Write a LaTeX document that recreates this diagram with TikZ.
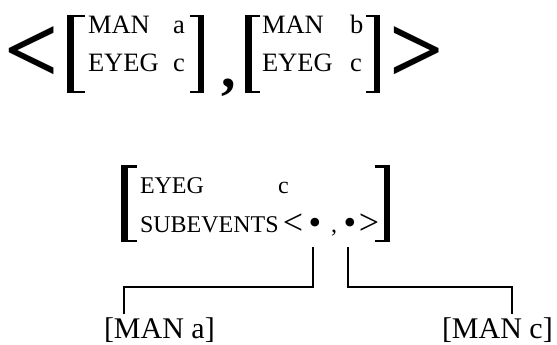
\documentclass[tikz,border=0pt]{standalone}
\usepackage{fontspec}
\setmainfont{Liberation Serif}
\tikzset{
  txt/.style={inner sep=0pt, outer sep=0pt, anchor=base west},
  topfont/.style={font=\fontsize{26.5}{30}\selectfont},
  lowfont/.style={font=\fontsize{24}{28}\selectfont},
  symfont/.style={inner sep=0pt, outer sep=0pt, anchor=base, font=\fontsize{36}{36}\selectfont},
  labfont/.style={font=\fontsize{30}{34}\selectfont},
  bigsym/.style={inner sep=0pt, outer sep=0pt, anchor=base west, font=\fontsize{96}{96}\selectfont\bfseries},
  wire/.style={line width=2pt, line cap=rect},
  brk/.style={fill=black}
}
% thick delimiter: bar plus two thin serifs
\newcommand{\lbrk}[4]{% bar left x, serif end x, top y, bottom y
  \fill[brk] (#1,#3) rectangle ++(6.5,#4-#3);
  \fill[brk] (#1,#3) rectangle (#2,#3+2.5);
  \fill[brk] (#1,#4) rectangle (#2,#4-2.5);}
\newcommand{\rbrk}[4]{% serif start x, bar right x, top y, bottom y
  \fill[brk] (#2,#3) rectangle ++(-6.5,#4-#3);
  \fill[brk] (#1,#3) rectangle (#2,#3+2.5);
  \fill[brk] (#1,#4) rectangle (#2,#4-2.5);}
\begin{document}
\begin{tikzpicture}[x=1pt,y=-1pt]
\useasboundingbox (0,0) rectangle (557,345);
\fill[white] (0,0) rectangle (557,345);

% ---- sequence of two feature structures ----
\node[bigsym] (lt) at (5,82) {<};
\lbrk{67}{85}{15}{93}
\node[txt,topfont] (m1) at (88,34) {MAN};
\node[txt,topfont] (v1) at (173,34) {a};
\node[txt,topfont] (e1) at (88,72) {EYEG};
\node[txt,topfont] (w1) at (173,72) {c};
\rbrk{190}{204}{15}{93}
\node[bigsym,font=\fontsize{58}{58}\selectfont\bfseries] (cm) at (221,88) {,};
\lbrk{245}{260}{15}{93}
\node[txt,topfont] (m2) at (262,34) {MAN};
\node[txt,topfont] (v2) at (350,34) {b};
\node[txt,topfont] (e2) at (262,72) {EYEG};
\node[txt,topfont] (w2) at (350,72) {c};
\rbrk{366}{380}{15}{93}
\node[bigsym] (gt) at (389,82) {>};

% ---- event with two subevents ----
\lbrk{121}{137}{165}{242}
\node[txt,lowfont] (ey) at (140,193) {EYEG};
\node[txt,lowfont] (cv) at (278,193) {c};
\node[txt,lowfont] (sb) at (140,232) {SUBEVENTS};
\node[symfont] (la1) at (293,234) {<};
\node[symfont] (b1) at (315,234) {•};
\node[txt,lowfont] (cm2) at (331,232) {,};
\node[symfont] (b2) at (350,234) {•};
\node[symfont] (ra1) at (369,234) {>};
\rbrk{375}{390}{165}{242}

\node[txt,labfont] (ma) at (104,338) {[MAN a]};
\node[txt,labfont] (mc) at (442,338) {[MAN c]};

\coordinate (s1) at (313,248);
\coordinate (s2) at (348,248);
\coordinate (ea) at (124,313);
\coordinate (ec) at (512,313);
\draw[wire] (s1) -- (313,287) -| (ea);
\draw[wire] (s2) -- (348,287) -| (ec);
\end{tikzpicture}
\end{document}
